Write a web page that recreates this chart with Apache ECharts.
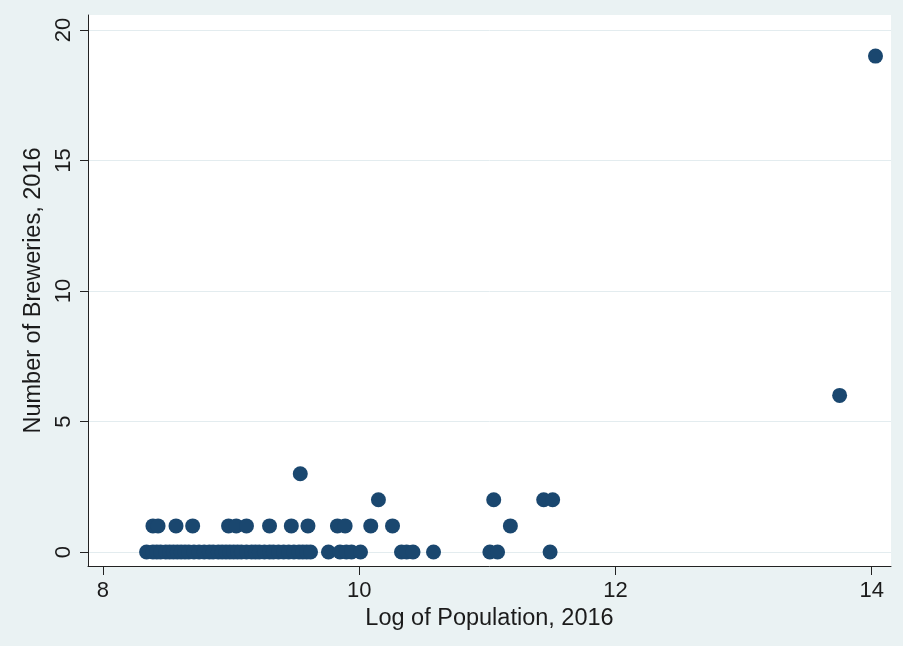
<!DOCTYPE html>
<html>
<head>
<meta charset="utf-8">
<script src="https://cdn.jsdelivr.net/npm/echarts@6/dist/echarts.min.js"></script>
<style>
  html, body { margin: 0; padding: 0; background: #eaf2f3; }
  #chart { width: 903px; height: 646px; }
</style>
</head>
<body>
<div id="chart"></div>
<script>
// Log of population (2016) for places, grouped by their number of breweries
const logPopBrew0 = [
  8.34, 8.39, 8.42, 8.45, 8.49, 8.52, 8.55, 8.58, 8.61, 8.64, 8.67, 8.71,
  8.75, 8.79, 8.83, 8.86, 8.90, 8.93, 8.96, 8.99, 9.02, 9.05, 9.08, 9.12,
  9.16, 9.19, 9.22, 9.26, 9.30, 9.33, 9.37, 9.41, 9.45, 9.49, 9.53, 9.56,
  9.59, 9.62, 9.76, 9.85, 9.90, 9.94, 10.01, 10.33, 10.37, 10.42, 10.58,
  11.02, 11.08, 11.49
];
const logPopBrew1 = [
  8.39, 8.43, 8.57, 8.70, 8.98, 9.04, 9.12, 9.30, 9.47, 9.60, 9.83, 9.89,
  10.09, 10.26, 11.18
];
const logPopBrew2 = [10.15, 11.05, 11.44, 11.51];
const logPopBrew3 = [9.54];
const logPopBrew6 = [13.75];
const logPopBrew19 = [14.03];

// Axis ticks
const xTicks = [8, 10, 12, 14];
const yTicks = [0, 5, 10, 15, 20];

const groups = [
  [0, logPopBrew0], [1, logPopBrew1], [2, logPopBrew2],
  [3, logPopBrew3], [6, logPopBrew6], [19, logPopBrew19]
];
const points = [];
groups.forEach(([count, pops]) => pops.forEach(p => points.push([p, count])));

const font = "'Liberation Sans', Arial, sans-serif";
const textColor = '#1b1b1b';

const chart = echarts.init(document.getElementById('chart'), null, { renderer: 'canvas' });
chart.setOption({
  backgroundColor: '#eaf2f3',
  animation: false,
  grid: {
    left: 88, right: 12, top: 15, bottom: 80,
    show: true, backgroundColor: '#ffffff', borderWidth: 0
  },
  xAxis: {
    type: 'value',
    min: 7.883, max: 14.151,
    name: 'Log of Population, 2016',
    nameLocation: 'middle',
    nameGap: 37,
    nameTextStyle: { fontFamily: font, fontSize: 23.5, color: textColor },
    axisLine: { show: true, onZero: false, lineStyle: { color: '#222', width: 1 } },
    axisTick: { show: true, length: 9, customValues: xTicks, lineStyle: { color: '#222' } },
    axisLabel: { customValues: xTicks, margin: 14, fontFamily: font, fontSize: 22, color: textColor },
    splitLine: { show: false }
  },
  yAxis: {
    type: 'value',
    min: -0.536, max: 20.575,
    name: 'Number of Breweries, 2016',
    nameLocation: 'middle',
    nameGap: 38,
    nameTextStyle: { fontFamily: font, fontSize: 23.5, color: textColor },
    axisLine: { show: true, onZero: false, lineStyle: { color: '#222', width: 1 } },
    axisTick: { show: true, length: 8, customValues: yTicks, lineStyle: { color: '#222' } },
    axisLabel: { customValues: yTicks, rotate: 90, margin: 13, fontFamily: font, fontSize: 22, color: textColor },
    splitLine: { show: true, lineStyle: { color: '#e3ecef', width: 1 } }
  },
  series: [{
    type: 'scatter',
    data: points,
    symbol: 'circle',
    symbolSize: 15,
    itemStyle: { color: '#1a476f', opacity: 1 },
    clip: false
  }]
});
</script>
</body>
</html>
